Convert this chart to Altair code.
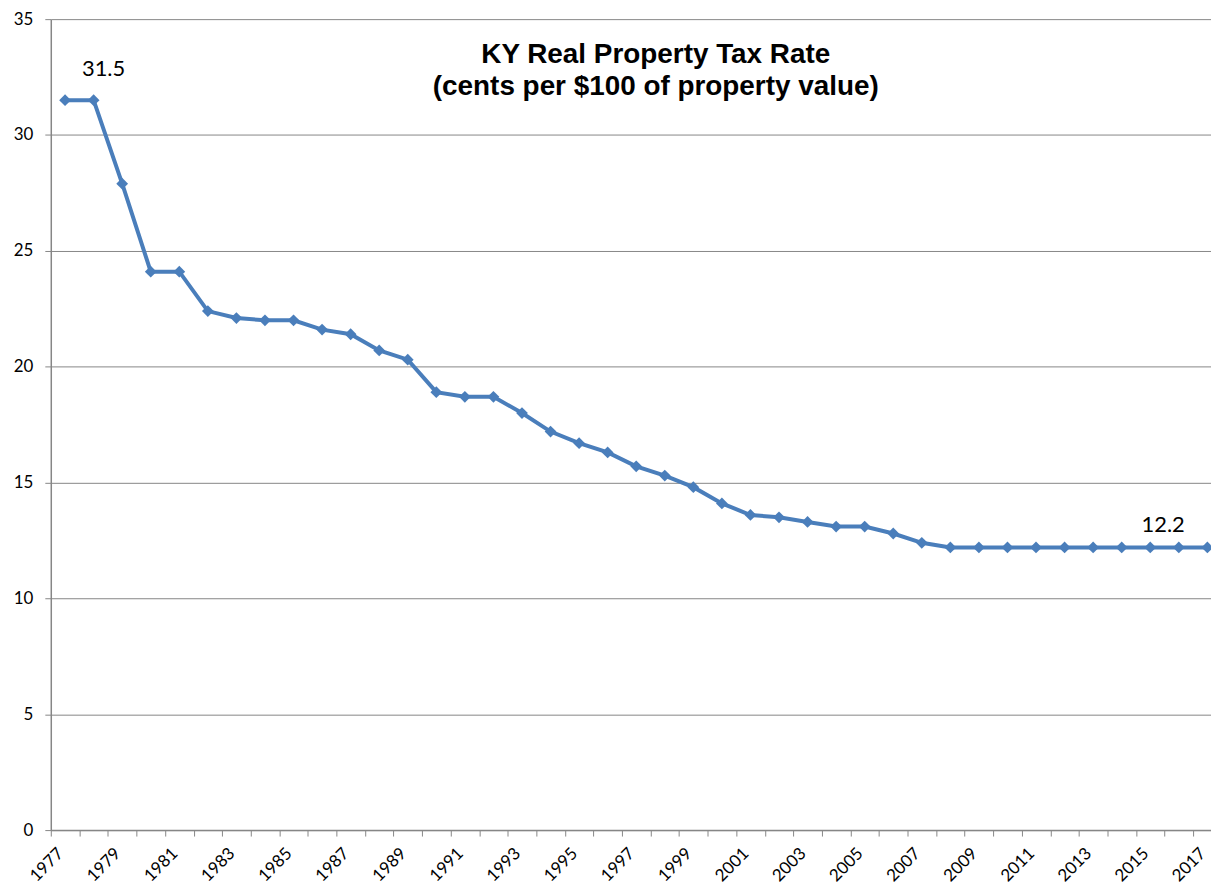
import altair as alt
import pandas as pd

years = list(range(1977, 2018))
rates = [31.5, 31.5, 27.9, 24.1, 24.1, 22.4, 22.1, 22.0, 22.0, 21.6, 21.4,
         20.7, 20.3, 18.9, 18.7, 18.7, 18.0, 17.2, 16.7, 16.3, 15.7, 15.3,
         14.8, 14.1, 13.6, 13.5, 13.3, 13.1, 13.1, 12.8, 12.4,
         12.2, 12.2, 12.2, 12.2, 12.2, 12.2, 12.2, 12.2, 12.2, 12.2]
title_lines = ["KY Real Property Tax Rate", "(cents per $100 of property value)"]
y_ticks = [0, 5, 10, 15, 20, 25, 30, 35]

df = pd.DataFrame({"year": years, "rate": rates})

BLUE = "#4A7EBB"
GRID = "#868686"
FONT = "Lato"

W, H = 1166, 815
STEP = 28.7
RANGE_W = STEP * len(years)

x_enc = alt.X(
    "year:O",
    scale=alt.Scale(type="point", padding=0.5, range=[0, RANGE_W]),
    axis=alt.Axis(
        title=None,
        labelExpr="datum.value % 2 == 1 ? datum.label : ''",
        labelOverlap=False,
        labelAngle=-45,
        labelAlign="right",
        labelBaseline="top",
        labelPadding=9,
        labelOffset=4,
        labelFontSize=17,
        labelFont=FONT,
        labelColor="#000000",
        tickOffset=-STEP / 2,
        tickSize=6,
        tickColor=GRID,
        domainColor=GRID,
        domainWidth=1.5,
        grid=False,
    ),
)
y_enc = alt.Y(
    "rate:Q",
    scale=alt.Scale(domain=[0, 35], nice=False),
    axis=alt.Axis(
        title=None,
        values=y_ticks,
        labelFontSize=17,
        labelFont=FONT,
        labelColor="#000000",
        labelPadding=12,
        tickSize=6,
        tickColor=GRID,
        domainColor=GRID,
        domainWidth=1.5,
        gridColor=GRID,
        gridWidth=1,
    ),
)

base = alt.Chart(df).encode(x=x_enc, y=y_enc)
line = base.mark_line(color=BLUE, strokeWidth=4)
pts = base.mark_point(shape="diamond", filled=True, size=140, opacity=1, color=BLUE)

lab1 = base.transform_filter("datum.year == 1978").mark_text(
    dx=10, dy=-31, fontSize=22, font=FONT, color="#000000"
).encode(text=alt.Text("rate:Q", format=".1f"))
lab2 = base.transform_filter("datum.year == 2015").mark_text(
    dx=13, dy=-22, fontSize=22, font=FONT, color="#000000"
).encode(text=alt.Text("rate:Q", format=".1f"))

chart = alt.layer(line, pts, lab1, lab2).properties(
    width=W,
    height=H,
    autosize=alt.AutoSizeParams(type="none"),
    padding={"left": 43, "top": 9, "right": 0, "bottom": 52},
    title=alt.TitleParams(
        title_lines,
        font="Liberation Sans",
        fontSize=28,
        fontWeight="bold",
        color="#000000",
        anchor="middle",
        frame="group",
        baseline="alphabetic",
        offset=0,
        dx=25,
        dy=113,
        lineHeight=32,
    ),
).configure_view(stroke=None)

chart.save("out.html", embed_options={"renderer": "svg", "actions": False})
